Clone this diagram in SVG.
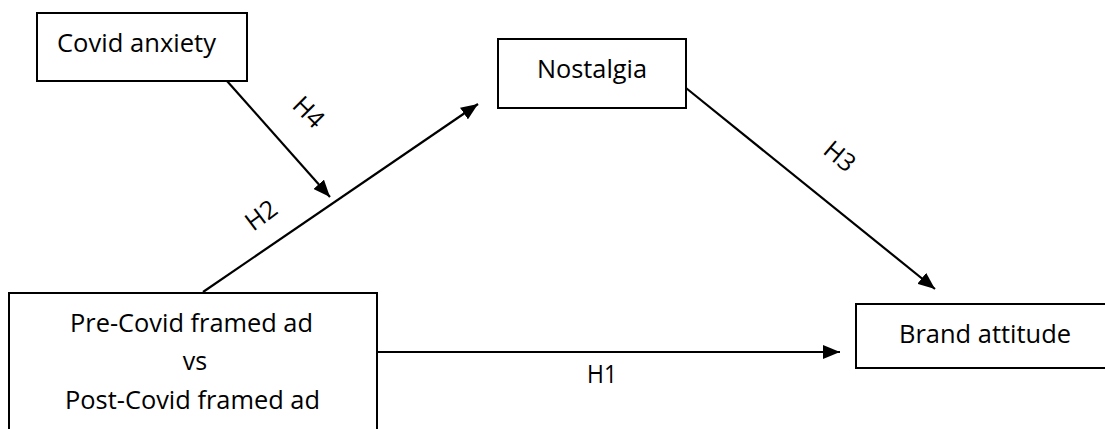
<svg xmlns="http://www.w3.org/2000/svg" width="1105" height="429" viewBox="0 0 1105 429">
<style>
.box{fill:#fff;stroke:#000;stroke-width:2}
.t{font-family:"Open Sans","Liberation Sans",sans-serif;font-size:25px;fill:#000}
.c{stroke:#000;stroke-width:2.2;fill:none}
</style>
<defs>
<marker id="ah" markerUnits="userSpaceOnUse" markerWidth="18" markerHeight="14" refX="17" refY="7" orient="auto">
<path d="M0,0 L17,7 L0,14 z" fill="#000"/>
</marker>
</defs>
<rect width="1105" height="429" fill="#fff"/>
<g id="connectors">
<line class="c" x1="227" y1="81" x2="330" y2="197" marker-end="url(#ah)"/>
<line class="c" x1="203" y1="292" x2="478" y2="104" marker-end="url(#ah)"/>
<line class="c" x1="686" y1="88" x2="935" y2="289" marker-end="url(#ah)"/>
<line class="c" x1="377" y1="352" x2="840" y2="352" marker-end="url(#ah)"/>
<text class="t" transform="translate(309,112) rotate(45)" text-anchor="middle" y="9">H4</text>
<text class="t" transform="translate(261,215) rotate(-37)" text-anchor="middle" y="9">H2</text>
<text class="t" transform="translate(840,156) rotate(40)" text-anchor="middle" y="9">H3</text>
<text class="t" x="587" y="383" textLength="30" lengthAdjust="spacingAndGlyphs">H1</text>
</g>
<g id="covid-anxiety">
<rect class="box" x="37" y="13" width="210" height="68"/>
<text class="t" x="57" y="52" textLength="159" lengthAdjust="spacingAndGlyphs">Covid anxiety</text>
</g>
<g id="nostalgia">
<rect class="box" x="498" y="39" width="188" height="69"/>
<text class="t" x="537" y="78" textLength="110" lengthAdjust="spacingAndGlyphs">Nostalgia</text>
</g>
<g id="ad-framing">
<rect class="box" x="9" y="293" width="368" height="150"/>
<text class="t" x="70" y="332" textLength="243" lengthAdjust="spacingAndGlyphs">Pre-Covid framed ad</text>
<text class="t" x="195" y="370" text-anchor="middle">vs</text>
<text class="t" x="65" y="409" textLength="255" lengthAdjust="spacingAndGlyphs">Post-Covid framed ad</text>
</g>
<g id="brand-attitude">
<rect class="box" x="856" y="304" width="260" height="64"/>
<text class="t" x="899" y="343" textLength="172" lengthAdjust="spacingAndGlyphs">Brand attitude</text>
</g>
</svg>
